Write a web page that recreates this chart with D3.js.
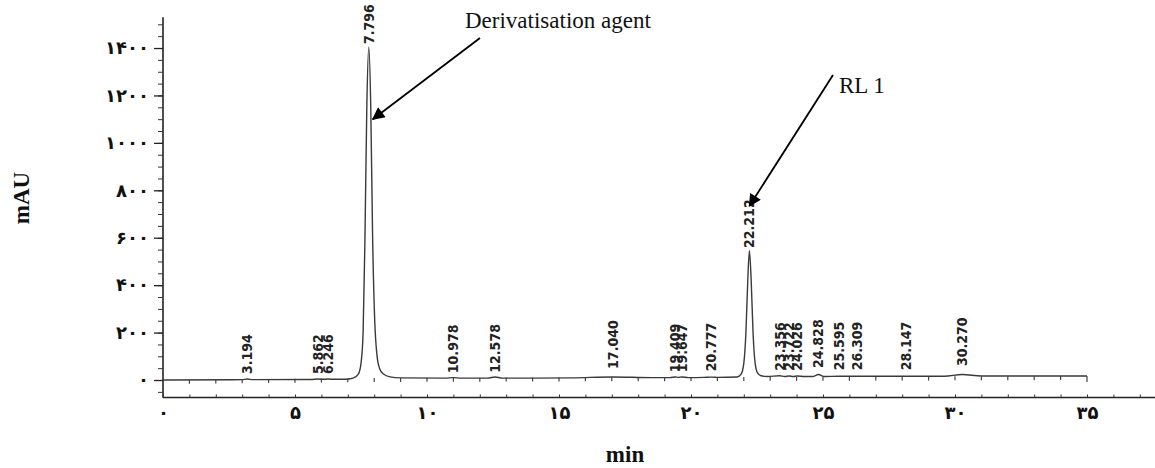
<!DOCTYPE html>
<meta charset="utf-8">
<style>
body { margin: 0; background: #fff; }
.ytick text, .xtick text { font: bold 18px "DejaVu Sans", sans-serif; fill: #111; }
.peak { font: bold 14px "Liberation Sans Narrow", "DejaVu Sans Condensed", sans-serif; fill: #222; }
.note { font: 23px "Liberation Serif", "Times New Roman", serif; fill: #111; }
.title { font: bold 23px "Liberation Serif", "Times New Roman", serif; fill: #111; }
</style>
<body>
<script src="https://cdn.jsdelivr.net/npm/d3@7/dist/d3.min.js"></script>
<script>
// tick values / labels (persian digits as on the printout)
var yTicks = [0, 200, 400, 600, 800, 1000, 1200, 1400];
var yTickLabels = ["۰", "۲۰۰", "۴۰۰", "۶۰۰", "۸۰۰", "۱۰۰۰", "۱۲۰۰", "۱۴۰۰"];
var yMinor = d3.range(-50, 1530, 50);
var xTicks = [0, 5, 10, 15, 20, 25, 30, 35];
var xTickLabels = ["۰", "۵", "۱۰", "۱۵", "۲۰", "۲۵", "۳۰", "۳۵"];
var xMinor = d3.range(0, 38, 1);

// retention times and apex heights (mAU)
var peakTimes = [3.194, 5.862, 6.246, 7.796, 10.978, 12.578, 17.040, 19.409, 19.647, 20.777,
                 22.212, 23.356, 23.722, 24.026, 24.828, 25.595, 26.309, 28.147, 30.270];
var peakApex = [8, 8, 8, 1400, 12, 14, 30, 16, 16, 20,
                540, 22, 22, 22, 34, 24, 24, 24, 42];

// chromatogram trace [min, mAU]
var trace = [
  [0, 0], [2.6, 1], [3.0, 1.5], [3.194, 4], [3.4, 1.5], [5.6, 2], [5.862, 4], [6.05, 3],
  [6.246, 4], [6.5, 3], [6.9, 3], [7.2, 8], [7.4, 25], [7.5, 70], [7.58, 200], [7.65, 600],
  [7.72, 1150], [7.796, 1405], [7.87, 1150], [7.94, 600], [8.02, 250], [8.1, 110], [8.2, 50],
  [8.35, 25], [8.6, 13], [9.0, 9], [10.7, 8], [10.978, 10], [11.3, 8], [12.3, 8], [12.578, 13],
  [12.85, 8], [14.0, 8], [15.5, 9], [17.04, 13], [18.5, 10], [19.2, 10], [19.409, 13],
  [19.52, 11], [19.647, 13], [19.9, 10], [20.5, 11], [20.777, 12], [21.0, 11], [21.75, 13],
  [21.9, 25], [22.0, 70], [22.08, 200], [22.15, 420], [22.212, 545], [22.28, 420], [22.35, 200],
  [22.43, 70], [22.52, 30], [22.65, 18], [22.9, 15], [23.356, 18], [23.55, 15], [23.722, 17],
  [23.87, 15], [24.026, 17], [24.3, 15], [24.6, 15], [24.828, 23], [25.05, 15], [25.595, 16],
  [26.309, 16], [28.147, 16], [29.6, 16], [30.27, 23], [31.0, 17], [35, 17]
];

var width = 1155, height = 468;

var x = d3.scaleLinear().domain([0, 35]).range([163, 1087]);
var y = d3.scaleLinear().domain([-75, 1530]).range([397.8, 17.2]);
// baseline drift used to hang the minute marks on the trace
var base = d3.scaleLinear().domain([0, 9, 35]).range([0, 9, 17]);

var svg = d3.select("body").append("svg")
    .attr("width", width)
    .attr("height", height);

// y axis
svg.append("line")
    .attr("x1", x(0)).attr("x2", x(0))
    .attr("y1", y(1530)).attr("y2", y(-75))
    .attr("stroke", "#222").attr("stroke-width", 1.6);

svg.append("g")
    .attr("transform", "translate(" + x(0) + ",0)")
    .call(d3.axisLeft(y).tickValues(yMinor).tickSize(5).tickFormat(""))
    .call(function(g) { g.select(".domain").remove(); })
    .selectAll("line").attr("stroke", "#333");

svg.append("g")
    .attr("class", "ytick")
    .attr("transform", "translate(" + x(0) + ",0)")
    .call(d3.axisLeft(y).tickValues(yTicks).tickSize(9).tickPadding(5)
      .tickFormat(function(d, i) { return yTickLabels[i]; }))
    .call(function(g) { g.select(".domain").remove(); })
    .selectAll("line").attr("stroke", "#222").attr("stroke-width", 1.3);

// x axis (lower line)
svg.append("line")
    .attr("x1", x(0)).attr("x2", width)
    .attr("y1", 397.5).attr("y2", 397.5)
    .attr("stroke", "#222").attr("stroke-width", 1.6);

svg.append("g")
    .attr("transform", "translate(0,397.5)")
    .call(d3.axisTop(x).tickValues(xMinor).tickSize(3).tickFormat(""))
    .call(function(g) { g.select(".domain").remove(); })
    .selectAll("line").attr("stroke", "#333");

svg.append("g")
    .attr("class", "xtick")
    .attr("transform", "translate(0,397.5)")
    .call(d3.axisBottom(x).tickValues(xTicks).tickSize(0).tickPadding(9)
      .tickFormat(function(d, i) { return xTickLabels[i]; }))
    .call(function(g) { g.select(".domain").remove(); });

// minute marks hanging under the trace
svg.append("g").selectAll("line")
    .data(d3.range(1, 35, 1))
  .enter().append("line")
    .attr("x1", function(d) { return x(d); })
    .attr("x2", function(d) { return x(d); })
    .attr("y1", function(d) { return y(base(d)); })
    .attr("y2", function(d) { return y(base(d)) + 4; })
    .attr("stroke", "#444").attr("stroke-width", 1.2);

// end-of-run mark
svg.append("line")
    .attr("x1", x(35)).attr("x2", x(35))
    .attr("y1", y(17)).attr("y2", y(17) + 6)
    .attr("stroke", "#444").attr("stroke-width", 1.2);

// trace
var line = d3.line()
    .x(function(d) { return x(d[0]); })
    .y(function(d) { return y(d[1]); })
    .curve(d3.curveMonotoneX);

svg.append("path")
    .datum(trace)
    .attr("d", line)
    .attr("fill", "none")
    .attr("stroke", "#3a3a3a")
    .attr("stroke-width", 1.4);

// retention time labels
svg.append("g").selectAll("text")
    .data(peakTimes)
  .enter().append("text")
    .attr("class", "peak")
    .attr("transform", function(d, i) {
      return "translate(" + x(d) + "," + (y(peakApex[i]) - 4) + ") rotate(-90)";
    })
    .attr("dy", "0.35em")
    .text(function(d) { return d.toFixed(3); });

// annotations
svg.append("defs").append("marker")
    .attr("id", "head")
    .attr("viewBox", "0 0 10 10")
    .attr("refX", 9).attr("refY", 5)
    .attr("markerWidth", 8).attr("markerHeight", 7)
    .attr("markerUnits", "strokeWidth")
    .attr("orient", "auto")
  .append("path")
    .attr("d", "M0,0L10,5L0,10z")
    .attr("fill", "#000");

svg.append("line")
    .attr("x1", 480).attr("y1", 38)
    .attr("x2", x(7.796) + 4).attr("y2", y(1100))
    .attr("stroke", "#000").attr("stroke-width", 1.8)
    .attr("marker-end", "url(#head)");

svg.append("text")
    .attr("class", "note")
    .attr("x", 465).attr("y", 28)
    .text("Derivatisation agent");

svg.append("line")
    .attr("x1", 833).attr("y1", 75)
    .attr("x2", x(22.212)).attr("y2", 206)
    .attr("stroke", "#000").attr("stroke-width", 1.8)
    .attr("marker-end", "url(#head)");

svg.append("text")
    .attr("class", "note")
    .attr("x", 839).attr("y", 93)
    .text("RL 1");

// axis titles
svg.append("text")
    .attr("class", "title")
    .attr("transform", "translate(29,198) rotate(-90)")
    .attr("text-anchor", "middle")
    .text("mAU");

svg.append("text")
    .attr("class", "title")
    .attr("x", 625).attr("y", 462)
    .attr("text-anchor", "middle")
    .text("min");
</script>
</body>
